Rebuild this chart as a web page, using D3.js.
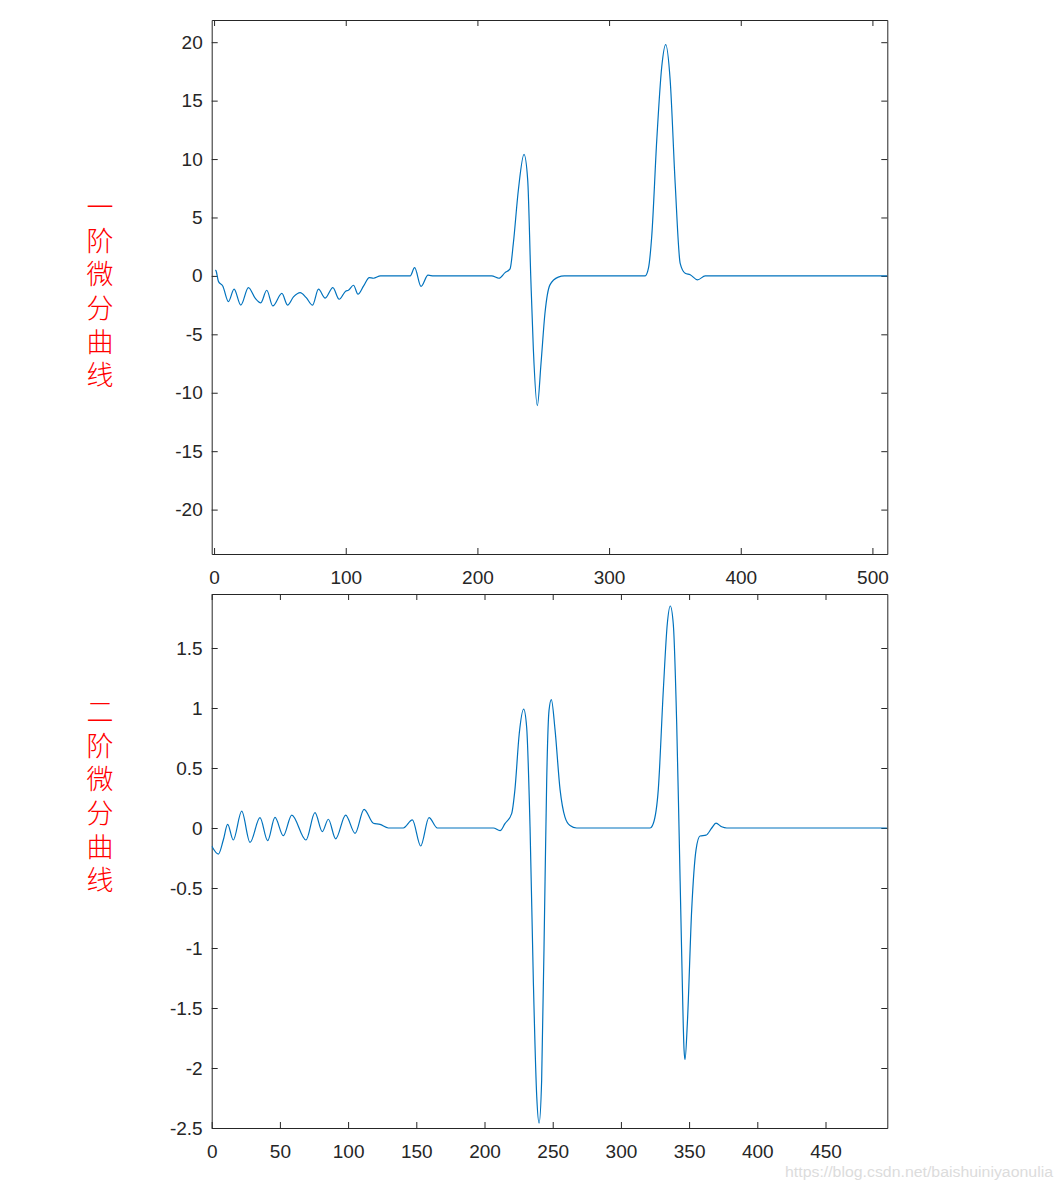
<!DOCTYPE html>
<html><head><meta charset="utf-8">
<script src="https://cdn.jsdelivr.net/npm/d3@7"></script>
<style>body{margin:0;background:#fff}svg{display:block}</style>
</head><body>
<svg id="c" width="1063" height="1181"></svg>
<script>
// ---- data: first-derivative curve (knots) ----
const d1X = [1, 1.5, 3.4, 6.6, 10.9, 15.2, 20.3, 26.1, 31.2, 35.5, 40.0, 44.6, 51.5, 55.8, 60.3, 65.4, 70.0, 74.8, 79.3, 84.4, 90.2, 95.0, 100.1, 102.0, 105.9, 109.3, 113.6, 117.9, 121.0, 126.4, 149.0, 152.3, 157.2, 162.5, 166.8, 210.8, 216.4, 221.0, 224.8, 227.3, 231.1, 235.4, 238.2, 240.5, 242.5, 245.5, 248.3, 251.3, 255.1, 261.4, 266.0, 327.4, 329.9, 332.4, 336.2, 340.0, 343.0, 346.4, 350.2, 354.0, 357.8, 361.6, 367.2, 373.0, 511.3];
const d1Y = [0.5, 0.43, -0.49, -0.86, -2.2, -1.14, -2.5, -1.0, -1.9, -2.3, -1.23, -2.57, -1.5, -2.5, -1.8, -1.43, -1.86, -2.5, -1.14, -1.9, -1.0, -2.0, -1.29, -1.23, -0.8, -1.57, -0.86, -0.14, -0.2, 0, 0, 0.7, -0.9, 0.06, 0, 0, -0.2, 0.28, 0.6, 2.8, 7.35, 10.4, 8.2, 0, -6.3, -11.1, -7.5, -3.2, -0.77, -0.1, 0, 0, 0.66, 3.4, 11.6, 17.9, 19.8, 16.75, 7.9, 1.08, 0.23, 0.1, -0.34, 0, 0];

// ---- data: second-derivative curve ----
const d2X = [0, 4.9, 8.5, 11.7, 15.8, 22.0, 28.1, 35.4, 41.0, 46.4, 52.5, 58.7, 69.1, 75.7, 81.1, 85.5, 90.9, 98.2, 105.1, 111.7, 118.5, 123.4, 129.5, 140.5, 147.1, 153.2, 159.3, 165.4, 206.5, 211.4, 215.0, 219.9, 222.3, 225.5, 228.7, 230.9, 233.4, 235.8, 238.3, 240.0, 241.9, 244.4, 245.6, 247.3, 249.0, 251.7, 255.4, 259.0, 262.7, 267.6, 321.3, 323.8, 327.4, 331.1, 334.0, 336.2, 338.4, 340.9, 342.6, 344.6, 346.3, 347.0, 348.7, 351.9, 355.1, 358.0, 362.4, 366.6, 369.7, 373.9, 377.6, 495];
const d2Y = [-0.15, -0.217, -0.1, 0.03, -0.1, 0.14, -0.12, 0.086, -0.106, 0.088, -0.064, 0.108, -0.1, 0.128, -0.03, 0.073, -0.09, 0.108, -0.044, 0.156, 0.04, 0.03, 0, 0, 0.067, -0.15, 0.086, 0, 0, -0.022, 0.036, 0.12, 0.32, 0.79, 0.99, 0.84, 0, -1.27, -2.24, -2.46, -2.1, -0.43, 0.4, 0.98, 1.07, 0.82, 0.32, 0.09, 0.02, 0, 0, 0.04, 0.32, 1.15, 1.7, 1.85, 1.7, 0.87, 0, -1.07, -1.85, -1.93, -1.63, -0.68, -0.18, -0.067, -0.06, 0, 0.04, 0.01, 0, 0];

// ---- tick labels ----
const top_xTicks = [0, 100, 200, 300, 400, 500];
const top_yTicks = [-20, -15, -10, -5, 0, 5, 10, 15, 20];
const bot_xTicks = [0, 50, 100, 150, 200, 250, 300, 350, 400, 450];
const bot_yTicks = [-2.5, -2, -1.5, -1, -0.5, 0, 0.5, 1, 1.5];
const label1 = "一阶微分曲线";
const label2 = "二阶微分曲线";

const svg = d3.select("#c");
const axisColor = "#262626";
const fontFam = "'Liberation Sans', Arial, Helvetica, sans-serif";

function panel(id, box, xDom, yDom, xT, yT, xs, ys) {
  const x = d3.scaleLinear().domain(xDom).range([box.l, box.r]);
  const y = d3.scaleLinear().domain(yDom).range([box.b, box.t]);
  const g = svg.append("g");
  g.append("clipPath").attr("id", "clip" + id).append("rect")
    .attr("x", box.l).attr("y", box.t).attr("width", box.r - box.l).attr("height", box.b - box.t);
  const fmt = d => String(d);
  const styleAxis = sel => {
    sel.selectAll("path.domain").attr("stroke", axisColor).attr("stroke-width", 1);
    sel.selectAll(".tick line").attr("stroke", axisColor).attr("stroke-width", 1);
    sel.selectAll("text").attr("fill", axisColor).style("font-size", "19px").style("font-family", fontFam);
  };
  g.append("g").attr("transform", `translate(0,${box.b})`)
    .call(d3.axisBottom(x).tickValues(xT).tickFormat(fmt).tickSizeInner(-6).tickSizeOuter(0).tickPadding(17))
    .call(styleAxis);
  g.append("g").attr("transform", `translate(0,${box.t})`)
    .call(d3.axisTop(x).tickValues(xT).tickFormat("").tickSizeInner(-6).tickSizeOuter(0))
    .call(styleAxis);
  g.append("g").attr("transform", `translate(${box.l},0)`)
    .call(d3.axisLeft(y).tickValues(yT).tickFormat(fmt).tickSizeInner(-6).tickSizeOuter(0).tickPadding(9))
    .call(styleAxis);
  g.append("g").attr("transform", `translate(${box.r},0)`)
    .call(d3.axisRight(y).tickValues(yT).tickFormat("").tickSizeInner(-6).tickSizeOuter(0))
    .call(styleAxis);
  const pts = xs.map((v, i) => [v, ys[i]]);
  g.append("path").datum(pts)
    .attr("clip-path", `url(#clip${id})`)
    .attr("fill", "none").attr("stroke", "#0072BD").attr("stroke-width", 1.2)
    .attr("d", d3.line().x(d => x(d[0])).y(d => y(d[1])).curve(d3.curveMonotoneX));
}

panel(1, {l: 211.7, r: 887.3, t: 20, b: 554}, [-1.8, 511.3], [-23.8, 21.9], top_xTicks, top_yTicks, d1X, d1Y);
panel(2, {l: 211.7, r: 887.3, t: 594, b: 1128}, [0, 495.3], [-2.5, 1.95], bot_xTicks, bot_yTicks, d2X, d2Y);

function vlabel(str, yTop) {
  svg.append("text")
    .attr("x", 100).attr("y", yTop)
    .style("writing-mode", "vertical-rl")
    .style("letter-spacing", "6.6px")
    .attr("fill", "#ff0000")
    .style("font-family", "'Noto Sans CJK SC', sans-serif").style("font-weight", 300).style("font-size", "27px")
    .text(str);
}
vlabel(label1, 193.5);
vlabel(label2, 698.5);

svg.append("text").attr("x", 1053).attr("y", 1177).attr("text-anchor", "end")
  .attr("textLength", 268).attr("lengthAdjust", "spacingAndGlyphs")
  .attr("fill", "#dcdcdc").style("font-family", fontFam).style("font-size", "14px")
  .text("https://blog.csdn.net/baishuiniyaonulia");
</script>
</body></html>
